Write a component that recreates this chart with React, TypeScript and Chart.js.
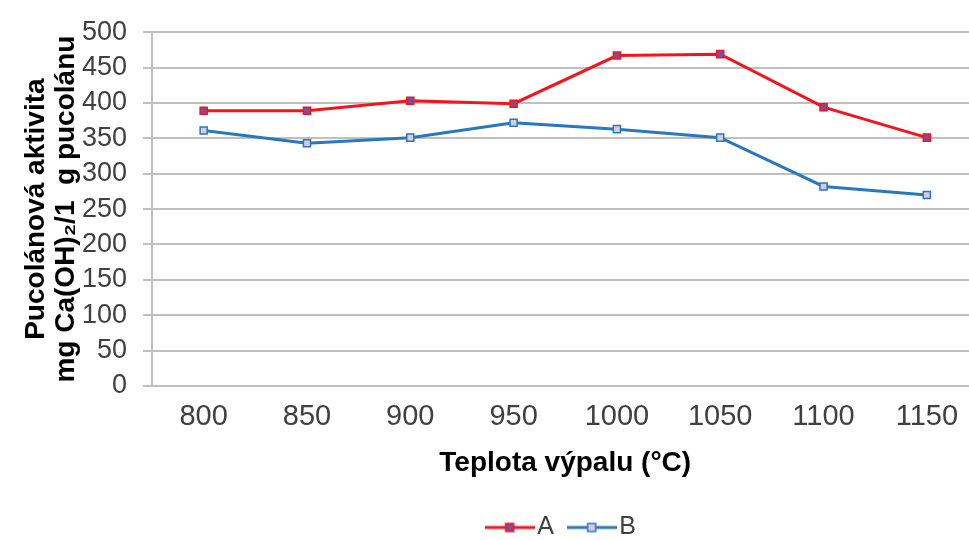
import React, { useEffect, useRef } from "react";
import { Chart, registerables } from "chart.js";

Chart.register(...registerables);

const categories = ["800", "850", "900", "950", "1000", "1050", "1100", "1150"];
const seriesA = [389, 389, 403, 399, 467, 469, 394, 351];
const seriesB = [361, 343, 351, 372, 363, 351, 282, 270];
const yTitle = ["Pucolánová aktivita", "mg Ca(OH)₂/1  g pucolánu"];
const xTitle = "Teplota výpalu (°C)";

const RED = "#f5141e";
const BLUE = "#2878c0";
const FONT = "'Liberation Sans', Arial, sans-serif";

function makeIcon(line: string, fill: string) {
  const c = document.createElement("canvas");
  c.width = 50;
  c.height = 12;
  const ctx = c.getContext("2d")!;
  ctx.strokeStyle = line;
  ctx.lineWidth = 3;
  ctx.beginPath();
  ctx.moveTo(0, 6);
  ctx.lineTo(50, 6);
  ctx.stroke();
  ctx.fillStyle = fill;
  ctx.fillRect(21, 2, 8, 8);
  ctx.lineWidth = 1.5;
  ctx.strokeRect(21, 2, 8, 8);
  return c;
}

export default function App() {
  const ref = useRef<HTMLCanvasElement>(null);
  useEffect(() => {
    const icons = [makeIcon(RED, "#7a4f9a"), makeIcon(BLUE, "#e0c8d8")];
    const chart = new Chart(ref.current!, {
      type: "line",
      data: {
        labels: categories,
        datasets: [
          {
            label: "A",
            data: seriesA,
            borderColor: RED,
            backgroundColor: "#7a4f9a",
            borderWidth: 3,
            pointStyle: "rect",
            pointRadius: 5,
            pointBorderWidth: 1.5,
            pointBorderColor: RED,
            pointBackgroundColor: "#7a4f9a",
          },
          {
            label: "B",
            data: seriesB,
            borderColor: BLUE,
            backgroundColor: "#e0c8d8",
            borderWidth: 3,
            pointStyle: "rect",
            pointRadius: 5,
            pointBorderWidth: 1.5,
            pointBorderColor: BLUE,
            pointBackgroundColor: "#e0c8d8",
          },
        ],
      },
      options: {
        animation: false,
        responsive: false,
        layout: { padding: { top: 30, left: 0, right: 0, bottom: 0 } },
        plugins: {
          tooltip: { enabled: false },
          legend: {
            position: "bottom",
            fullSize: false,
            labels: {
              usePointStyle: true,
              pointStyleWidth: 30,
              padding: 22.8,
              color: "#404040",
              font: { family: FONT, size: 25 },
              generateLabels: (ch: any) => {
                const items = (Chart.defaults.plugins.legend.labels as any).generateLabels(ch);
                return items.map((it: any, i: number) => ({ ...it, pointStyle: icons[i] }));
              },
            },
          },
        },
        scales: {
          x: {
            type: "category",
            offset: true,
            grid: { display: false, drawTicks: false },
            border: { display: true, color: "#bfbfbf", width: 2 },
            ticks: {
              color: "#404040",
              font: { family: FONT, size: 29 },
              padding: 14,
              maxRotation: 0,
              autoSkip: false,
            },
            title: {
              display: true,
              text: xTitle,
              color: "#000",
              font: { family: FONT, size: 28, weight: "bold" },
              padding: { top: 0, bottom: 12.4 },
            },
            afterFit: (s: any) => {
              s.height = 106.2;
            },
          },
          y: {
            min: 0,
            max: 500,
            grid: { color: "#bfbfbf", lineWidth: 2, tickLength: 9, drawTicks: true },
            border: { display: true, color: "#bfbfbf", width: 2 },
            ticks: {
              stepSize: 50,
              autoSkip: false,
              color: "#404040",
              font: { family: FONT, size: 27 },
              padding: 16,
            },
            title: {
              display: true,
              text: yTitle,
              color: "#000",
              font: { family: FONT, size: 28, weight: "bold", lineHeight: 1.07 },
              padding: { top: 21, bottom: 0 },
            },
            afterFit: (s: any) => {
              s.width = 152;
            },
          },
        },
      } as any,
    });
    return () => chart.destroy();
  }, []);
  return (
    <div
      style={{
        position: "absolute",
        left: 0,
        top: 0,
        width: 969,
        height: 540,
        overflow: "hidden",
        background: "#fff",
      }}
    >
      <canvas ref={ref} width={985} height={550} style={{ display: "block", width: 985, height: 550 }} />
    </div>
  );
}
